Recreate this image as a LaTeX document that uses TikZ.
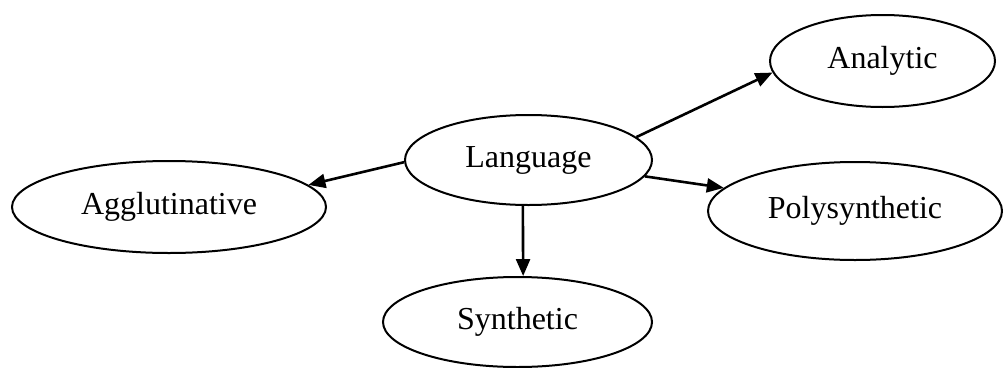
\documentclass[tikz,border=0pt]{standalone}
\usepackage{fontspec}
\setmainfont{Liberation Serif}
\usetikzlibrary{shapes.geometric,arrows.meta}
\begin{document}
\begin{tikzpicture}[x=1pt,y=-1pt,
  oval/.style={ellipse,draw,line width=2pt,inner sep=0pt,font=\fontsize{32}{38}\selectfont},
  arr/.style={line width=2.6pt,-{Triangle[length=17pt,width=14pt]}}]
\useasboundingbox (0,0) rectangle (1003,367);
\node[oval,minimum width=247pt,minimum height=90pt] (lang) at (528.5,160) {Language};
\node[oval,minimum width=225pt,minimum height=92pt] (ana) at (882.5,61) {Analytic};
\node[oval,minimum width=314pt,minimum height=92pt] (agg) at (169,207) {Agglutinative};
\node[oval,minimum width=294pt,minimum height=98pt] (poly) at (855,211) {Polysynthetic};
\node[oval,minimum width=269pt,minimum height=90pt] (syn) at (517.5,322) {Synthetic};
\draw[arr] (lang.12) -- (ana.186);
\draw[arr] (lang.181) -- (agg.9);
\draw[arr] (lang.-8) -- (poly.170);
\draw[arr] (lang.263) -- (syn.83);
\end{tikzpicture}
\end{document}
